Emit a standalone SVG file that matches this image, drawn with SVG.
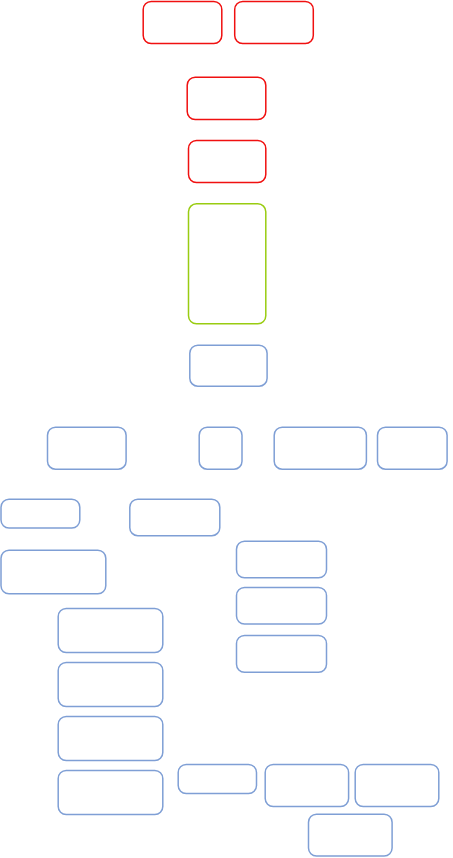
<svg xmlns="http://www.w3.org/2000/svg" width="453" height="858" viewBox="0 0 453 858">
<style>
rect{fill:#fff;stroke-width:1.5}
.r{stroke:#f01010}
.g{stroke:#99cc11}
.b{stroke:#7f9fd5}
</style>
<rect width="453" height="858" fill="#fff" style="stroke:none"/>
<g id="connectors"></g>
<g id="n1"><rect class="r" x="143.2" y="1.5" width="78.6" height="42" rx="8"/></g>
<g id="n2"><rect class="r" x="234.7" y="1.5" width="78.6" height="42" rx="8"/></g>
<g id="n3"><rect class="r" x="187.2" y="77.2" width="78.6" height="42.3" rx="8"/></g>
<g id="n4"><rect class="r" x="188.5" y="140.5" width="77.3" height="42" rx="8"/></g>
<g id="n5"><rect class="g" x="188.5" y="203.8" width="77.3" height="120" rx="8"/></g>
<g id="n6"><rect class="b" x="189.8" y="345.2" width="77.3" height="41" rx="8"/></g>
<g id="n7"><rect class="b" x="47.5" y="427.2" width="78.6" height="42" rx="8"/></g>
<g id="n8"><rect class="b" x="199.2" y="427.2" width="42.8" height="42" rx="8"/></g>
<g id="n9"><rect class="b" x="274.2" y="427.2" width="92.2" height="42" rx="8"/></g>
<g id="n10"><rect class="b" x="377.5" y="427.2" width="69.6" height="42" rx="8"/></g>
<g id="n11"><rect class="b" x="1" y="499.2" width="78.8" height="28.8" rx="8"/></g>
<g id="n12"><rect class="b" x="129.8" y="499.2" width="90" height="36.5" rx="8"/></g>
<g id="n13"><rect class="b" x="1" y="550.2" width="104.8" height="43.6" rx="8"/></g>
<g id="n14"><rect class="b" x="236.5" y="541.2" width="90" height="36.6" rx="8"/></g>
<g id="n15"><rect class="b" x="236.5" y="587.5" width="90" height="36.6" rx="8"/></g>
<g id="n16"><rect class="b" x="236.5" y="635.5" width="90" height="36.8" rx="8"/></g>
<g id="n17"><rect class="b" x="58.2" y="608.5" width="104.6" height="44" rx="8"/></g>
<g id="n18"><rect class="b" x="58.2" y="662.5" width="104.6" height="44" rx="8"/></g>
<g id="n19"><rect class="b" x="58.2" y="716.5" width="104.6" height="44" rx="8"/></g>
<g id="n20"><rect class="b" x="58.2" y="770.5" width="104.6" height="44" rx="8"/></g>
<g id="n21"><rect class="b" x="178.2" y="764.5" width="78.3" height="29" rx="8"/></g>
<g id="n22"><rect class="b" x="265.2" y="764.5" width="83.4" height="42" rx="8"/></g>
<g id="n23"><rect class="b" x="355.2" y="764.5" width="83.6" height="42" rx="8"/></g>
<g id="n24"><rect class="b" x="308.5" y="814.2" width="83.6" height="41.8" rx="8"/></g>
</svg>
